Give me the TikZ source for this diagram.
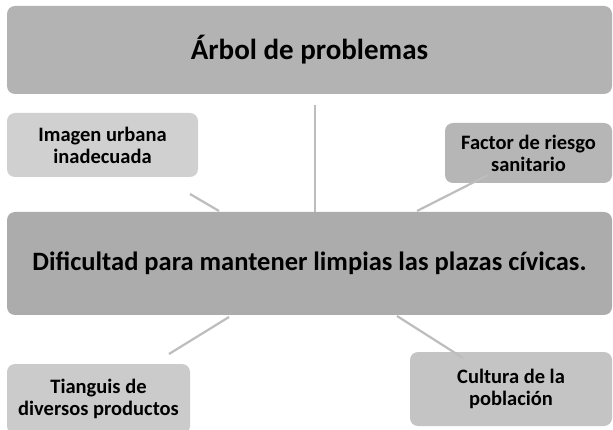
\documentclass[tikz,border=0pt]{standalone}
\usepackage{fontspec}
\setmainfont{Carlito}
\definecolor{cTop}{HTML}{B3B3B3}
\definecolor{cMain}{HTML}{ACACAC}
\definecolor{cImg}{HTML}{D0D0D0}
\definecolor{cFac}{HTML}{B6B6B6}
\definecolor{cTia}{HTML}{CBCBCB}
\definecolor{cCul}{HTML}{C4C4C4}
\definecolor{cLine}{HTML}{BDBDBD}
\tikzset{
  gbox/.style={rounded corners=8pt, inner sep=0pt, align=center},
  titletxt/.style={font=\fontsize{29}{34}\selectfont\bfseries},
  bigtxt/.style={font=\fontsize{26.5}{31}\selectfont\bfseries},
  smalltxt/.style={font=\fontsize{20.5}{22}\selectfont\bfseries},
  conn/.style={draw=cLine, line width=2.2pt}
}
\begin{document}
\begin{tikzpicture}[x=1pt,y=-1pt]
\useasboundingbox (0,0) rectangle (613,430);
\fill[white] (0,0) rectangle (613,430);
\node[gbox, titletxt, fill=cTop, minimum width=605pt, minimum height=88pt] (top) at (309.5,50) {Árbol de problemas};
\node[gbox, bigtxt, fill=cMain, minimum width=605pt, minimum height=103pt] (main) at (309.5,263.5) {Dificultad para mantener limpias las plazas cívicas.};
\node[gbox, smalltxt, fill=cImg, minimum width=191pt, minimum height=64pt] (img) at (102.5,145) {Imagen urbana\\inadecuada};
\node[gbox, smalltxt, fill=cFac, minimum width=167pt, minimum height=60pt] (fac) at (528.5,153) {Factor de riesgo\\sanitario};
\node[gbox, smalltxt, fill=cTia, minimum width=183pt, minimum height=70pt] (tia) at (98.5,399) {Tianguis de\\diversos productos};
\node[gbox, smalltxt, fill=cCul, minimum width=202pt, minimum height=74pt] (cul) at (511,389) {Cultura de la\\población};
\coordinate (vtop) at (315,105);
\coordinate (imgend) at (190,194);
\coordinate (mainA) at (219,211);
\coordinate (mainB) at (417,211);
\coordinate (facend) at (488,175);
\coordinate (mainC) at (229,317);
\coordinate (tiaend) at (169,354);
\coordinate (mainD) at (397,316);
\coordinate (culend) at (463,358);
\draw[conn] (vtop) -- (315,212);
\draw[conn] (imgend) -- (mainA);
\draw[conn] (mainB) -- (facend);
\draw[conn] (mainC) -- (tiaend);
\draw[conn] (mainD) -- (culend);
\end{tikzpicture}
\end{document}
